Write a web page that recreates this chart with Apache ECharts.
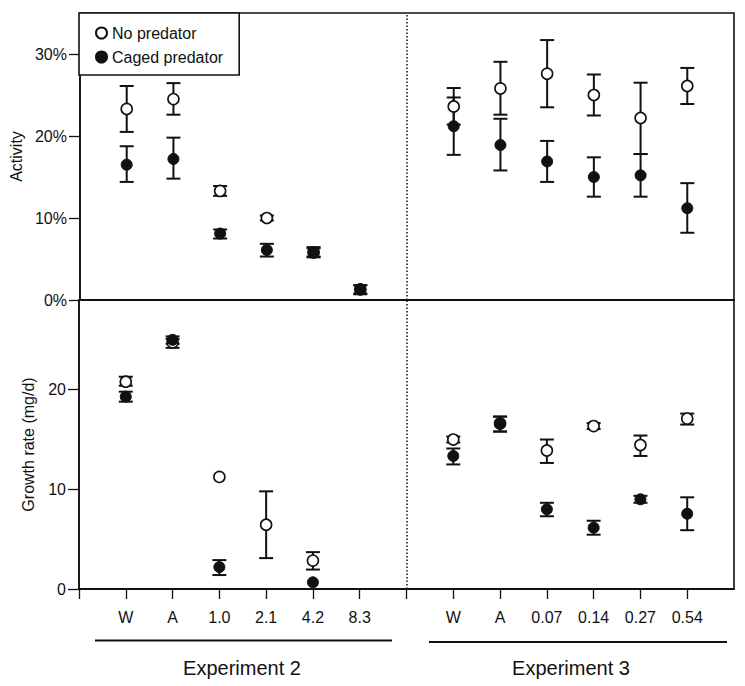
<!DOCTYPE html>
<html>
<head>
<meta charset="utf-8">
<script src="https://cdn.jsdelivr.net/npm/echarts@6/dist/echarts.min.js"></script>
<style>html,body{margin:0;padding:0;background:#fff}#c{width:745px;height:686px}</style>
</head>
<body>
<div id="c"></div>
<script>
// x positions 0..13; '' marks the gap / axis ends
const xLabels = ['', 'W', 'A', '1.0', '2.1', '4.2', '8.3', '', 'W', 'A', '0.07', '0.14', '0.27', '0.54'];
const groupNames = ['Experiment 2', 'Experiment 3'];
const seriesNames = ['No predator', 'Caged predator'];
const activityTicks = [0, 10, 20, 30];
const growthTicks = [0, 10, 20];

// Activity (%)
const actOpen    = [null, 23.3, 24.5, 13.3, 10.0, 5.8, 1.3, null, 23.6, 25.8, 27.6, 25.0, 22.2, 26.1];
const actOpenLo  = [null, 20.5, 22.6, 12.7, 9.7, 5.3, 0.8, null, 21.4, 22.6, 23.5, 22.5, 17.8, 23.9];
const actOpenHi  = [null, 26.1, 26.45, 13.9, 10.3, 6.3, 1.8, null, 25.85, 29.05, 31.7, 27.5, 26.5, 28.3];
const actCaged   = [null, 16.5, 17.2, 8.1, 6.1, 5.8, 1.3, null, 21.2, 18.9, 16.9, 15.0, 15.2, 11.2];
const actCagedLo = [null, 14.4, 14.8, 7.5, 5.3, 5.2, 0.7, null, 17.7, 15.8, 14.4, 12.6, 12.6, 8.2];
const actCagedHi = [null, 18.75, 19.8, 8.6, 6.85, 6.45, 1.8, null, 24.7, 22.1, 19.4, 17.4, 17.8, 14.25];

// Growth rate (mg/d)
const grOpen    = [null, 20.8, 24.75, 11.25, 6.45, 2.85, null, null, 15.0, 16.6, 13.9, 16.35, 14.45, 17.1];
const grOpenLo  = [null, 20.4, 24.2, null, 3.1, 1.95, null, null, 14.7, 15.8, 12.65, 16.05, 13.35, 16.5];
const grOpenHi  = [null, 21.3, 25.1, null, 9.8, 3.7, null, null, 15.3, 17.3, 15.0, 16.65, 15.4, 17.6];
const grCaged   = [null, 19.3, 25.0, 2.2, null, 0.67, null, null, 13.35, 16.6, 8.0, 6.15, 9.0, 7.55];
const grCagedLo = [null, 18.8, 24.6, 1.4, null, null, null, null, 12.5, 15.8, 7.3, 5.45, 8.65, 5.9];
const grCagedHi = [null, 19.8, 25.35, 2.9, null, null, null, null, 14.1, 17.3, 8.65, 6.85, 9.35, 9.2];

const FONT = "'Liberation Sans', Arial, Helvetica, sans-serif";
const INK = '#111';

function pts(vals) {
  const out = [];
  vals.forEach((v, i) => { if (v != null) out.push([i, v]); });
  return out;
}
function errs(lo, hi) {
  const out = [];
  lo.forEach((v, i) => { if (v != null && hi[i] != null) out.push([i, v, hi[i]]); });
  return out;
}
function errRender(params, api) {
  const x = api.value(0), lo = api.value(1), hi = api.value(2);
  const p1 = api.coord([x, hi]), p2 = api.coord([x, lo]);
  const hw = 7;
  const style = { stroke: INK, lineWidth: 2, fill: null };
  return {
    type: 'group', children: [
      { type: 'line', shape: { x1: p1[0], y1: p1[1], x2: p2[0], y2: p2[1] }, style },
      { type: 'line', shape: { x1: p1[0] - hw, y1: p1[1], x2: p1[0] + hw, y2: p1[1] }, style },
      { type: 'line', shape: { x1: p2[0] - hw, y1: p2[1], x2: p2[0] + hw, y2: p2[1] }, style }
    ]
  };
}

const openStyle = { color: '#fff', borderColor: INK, borderWidth: 1.6, opacity: 1 };
const cagedStyle = { color: INK, borderColor: INK, borderWidth: 1, opacity: 1 };
const divider = {
  silent: true, symbol: 'none', label: { show: false },
  lineStyle: { color: INK, type: [1.5, 2], width: 1.5 },
  data: [{ xAxis: 7 }]
};

function panel(gi, open, openLo, openHi, caged, cagedLo, cagedHi) {
  return [
    { type: 'custom', name: 'errOpen' + gi, xAxisIndex: gi, yAxisIndex: gi, renderItem: errRender,
      data: errs(openLo, openHi), z: 2, silent: true, markLine: divider },
    { type: 'scatter', name: seriesNames[0], xAxisIndex: gi, yAxisIndex: gi, symbol: 'circle', symbolSize: 11,
      itemStyle: openStyle, data: pts(open), z: 3 },
    { type: 'custom', name: 'errCaged' + gi, xAxisIndex: gi, yAxisIndex: gi, renderItem: errRender,
      data: errs(cagedLo, cagedHi), z: 2, silent: true },
    { type: 'scatter', name: seriesNames[1], xAxisIndex: gi, yAxisIndex: gi, symbol: 'circle', symbolSize: 11,
      itemStyle: cagedStyle, data: pts(caged), z: 3 }
  ];
}

const xTickVals = xLabels.map((_, i) => i);
const xLabelVals = [];
xLabels.forEach((l, i) => { if (l) xLabelVals.push(i); });

const chart = echarts.init(document.getElementById('c'), null, { renderer: 'svg' });
chart.setOption({
  animation: false,
  backgroundColor: '#fff',
  textStyle: { fontFamily: FONT, color: INK },
  legend: {
    data: seriesNames,
    orient: 'vertical',
    left: 79, top: 13,
    padding: [12, 16, 10, 16],
    itemGap: 8,
    itemWidth: 11, itemHeight: 11,
    borderColor: INK, borderWidth: 1.6,
    backgroundColor: '#fff',
    textStyle: { fontFamily: FONT, fontSize: 16, color: INK },
    z: 10
  },
  grid: [
    { left: 79, top: 13, width: 655, height: 287, show: true, borderColor: INK, borderWidth: 1.6, containLabel: false },
    { left: 79, top: 300, width: 655, height: 289, show: true, borderColor: INK, borderWidth: 1.6, containLabel: false }
  ],
  xAxis: [
    { gridIndex: 0, type: 'value', min: 0, max: 14, interval: 1,
      axisLine: { show: true, lineStyle: { color: INK, width: 2 } },
      axisTick: { show: false }, axisLabel: { show: false }, splitLine: { show: false } },
    { gridIndex: 1, type: 'value', min: 0, max: 14, interval: 1,
      axisLine: { show: true, lineStyle: { color: INK, width: 2 } },
      axisTick: { show: true, length: 10, lineStyle: { color: INK, width: 1.3 }, customValues: xTickVals },
      axisLabel: { show: true, margin: 20, fontSize: 16, color: INK, fontFamily: FONT,
        customValues: xLabelVals, formatter: v => xLabels[Math.round(v)] || '' },
      splitLine: { show: false } }
  ],
  yAxis: [
    { gridIndex: 0, type: 'value', min: 0, max: 35, interval: 10,
      name: 'Activity', nameLocation: 'middle', nameRotate: 90, nameGap: 56,
      nameTextStyle: { fontSize: 16, color: INK, fontFamily: FONT },
      axisLine: { show: true, lineStyle: { color: INK, width: 1.6 } },
      axisTick: { show: true, length: 11, lineStyle: { color: INK, width: 1.3 }, customValues: activityTicks },
      axisLabel: { margin: 13, fontSize: 16, color: INK, fontFamily: FONT, customValues: activityTicks, formatter: '{value}%' },
      splitLine: { show: false } },
    { gridIndex: 1, type: 'value', min: 0, max: 29, interval: 10,
      name: 'Growth rate (mg/d)', nameLocation: 'middle', nameRotate: 90, nameGap: 43,
      nameTextStyle: { fontSize: 16, color: INK, fontFamily: FONT },
      axisLine: { show: true, lineStyle: { color: INK, width: 1.6 } },
      axisTick: { show: true, length: 11, lineStyle: { color: INK, width: 1.3 }, customValues: growthTicks },
      axisLabel: { margin: 13, fontSize: 16, color: INK, fontFamily: FONT, customValues: growthTicks },
      splitLine: { show: false } }
  ],
  graphic: [
    { type: 'line', shape: { x1: 95, y1: 640.5, x2: 392, y2: 640.5 }, style: { stroke: INK, lineWidth: 2 } },
    { type: 'line', shape: { x1: 429, y1: 642, x2: 727, y2: 642 }, style: { stroke: INK, lineWidth: 2 } },
    { type: 'text', x: 242, y: 668, style: { text: groupNames[0], fontSize: 20, fontFamily: FONT, fill: INK, align: 'center', verticalAlign: 'middle' } },
    { type: 'text', x: 571, y: 668, style: { text: groupNames[1], fontSize: 20, fontFamily: FONT, fill: INK, align: 'center', verticalAlign: 'middle' } }
  ],
  series: [].concat(
    panel(0, actOpen, actOpenLo, actOpenHi, actCaged, actCagedLo, actCagedHi),
    panel(1, grOpen, grOpenLo, grOpenHi, grCaged, grCagedLo, grCagedHi)
  )
});
</script>
</body>
</html>
